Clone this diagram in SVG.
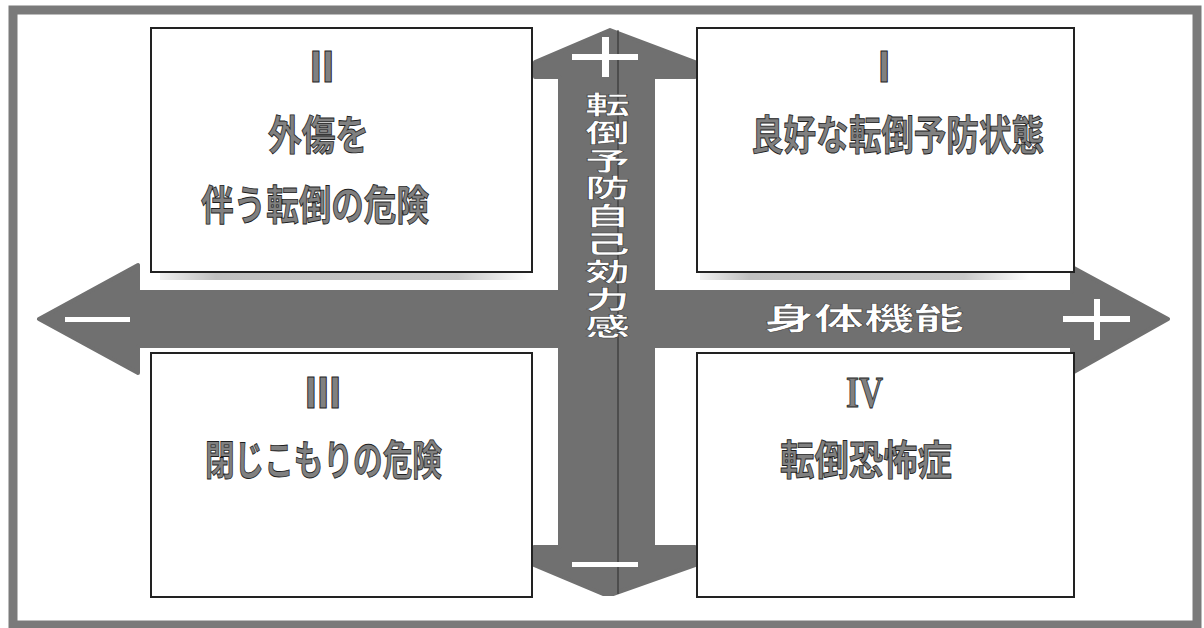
<svg xmlns="http://www.w3.org/2000/svg" width="1204" height="628" viewBox="0 0 1204 628">
<defs>
<style>
.arrow{fill:#707070;stroke:#707070;stroke-width:4;stroke-linejoin:round}
.mark{fill:#ffffff}
.box{fill:#ffffff;stroke:#222222;stroke-width:2}
.jp{font-family:"Noto Sans CJK JP","Noto Sans CJK SC",sans-serif;font-weight:700;fill:#808080;stroke:#1e1e1e;stroke-width:0.9}
.num{font-family:"Liberation Sans",Arial,sans-serif;font-weight:700;font-size:44px;fill:#808080;stroke:#1e1e1e;stroke-width:0.9;text-anchor:middle}
.numserif{font-family:"Liberation Serif","Times New Roman",serif;font-weight:700;font-size:44px;fill:#808080;stroke:#1e1e1e;stroke-width:0.9}
.wt{font-family:"Noto Sans CJK JP","Noto Sans CJK SC",sans-serif;font-weight:700;fill:#ffffff;stroke:#3a3a3a;stroke-width:0.5}
</style>
<linearGradient id="shadowGrad" x1="0" y1="0" x2="1" y2="0">
<stop offset="0" stop-color="#b0b0b0" stop-opacity="0.2"/>
<stop offset="0.15" stop-color="#b0b0b0" stop-opacity="0.8"/>
<stop offset="0.8" stop-color="#b0b0b0" stop-opacity="0.7"/>
<stop offset="1" stop-color="#b0b0b0" stop-opacity="0"/>
</linearGradient>
</defs>
<rect x="0" y="0" width="1204" height="628" fill="#ffffff"/>
<rect id="frame" x="13" y="10" width="1184" height="615" fill="none" stroke="#7a7a7a" stroke-width="9"/>

<g id="connectors">
<path id="axis-horizontal" class="arrow" d="M39,319 L138,265 L138,292 L1072,292 L1072,267 L1168,319 L1072,373 L1072,346 L138,346 L138,373 Z"/>
<path id="axis-vertical" class="arrow" d="M610,30 L535,62 L535,77 L560,77 L560,547 L534,547 L534,565 L603,594 L613,594 L695,565 L695,547 L653,547 L653,77 L695,77 L695,62 Z"/>
<line x1="618" y1="30" x2="618" y2="594" stroke="#2a2a2a" stroke-width="1"/>
<rect class="mark" x="65" y="317" width="65" height="5"/>
<rect class="mark" x="1063" y="316" width="67" height="6"/>
<rect class="mark" x="1094" y="299" width="6" height="41"/>
<rect class="mark" x="572" y="54" width="66" height="6"/>
<rect class="mark" x="602" y="37" width="7" height="40"/>
<rect class="mark" x="572" y="562" width="66" height="5"/>
<text id="label-vertical" class="wt" font-size="25" writing-mode="vertical-rl" letter-spacing="2.8" transform="translate(607.5,92) scale(1.8,1)" x="0" y="0">転倒予防自己効力感</text>
<text id="label-horizontal" class="wt" font-size="30" x="764" y="329" textLength="200" lengthAdjust="spacingAndGlyphs">身体機能</text>
</g>

<g id="shadows">
<rect x="160" y="273" width="372" height="7" fill="url(#shadowGrad)"/>
<rect x="700" y="273" width="330" height="7" fill="url(#shadowGrad)"/>
</g>

<g id="quadrant-II">
<rect class="box" x="151" y="28" width="381" height="244"/>
<text class="num" x="322" y="82">II</text>
<text class="jp" font-size="41" x="268" y="150" textLength="101" lengthAdjust="spacingAndGlyphs">外傷を</text>
<text class="jp" font-size="41" x="201" y="220" textLength="228" lengthAdjust="spacingAndGlyphs">伴う転倒の危険</text>
</g>

<g id="quadrant-I">
<rect class="box" x="697" y="28" width="377" height="244"/>
<text class="num" x="884" y="82">I</text>
<text class="jp" font-size="41" x="751" y="150" textLength="293" lengthAdjust="spacingAndGlyphs">良好な転倒予防状態</text>
</g>

<g id="quadrant-III">
<rect class="box" x="151" y="353" width="381" height="244"/>
<text class="num" x="323" y="408">III</text>
<text class="jp" font-size="41" x="205" y="475" textLength="237" lengthAdjust="spacingAndGlyphs">閉じこもりの危険</text>
</g>

<g id="quadrant-IV">
<rect class="box" x="697" y="353" width="377" height="244"/>
<text class="numserif" x="846" y="407" textLength="37" lengthAdjust="spacingAndGlyphs">IV</text>
<text class="jp" font-size="41" x="780" y="475" textLength="172" lengthAdjust="spacingAndGlyphs">転倒恐怖症</text>
</g>
</svg>
